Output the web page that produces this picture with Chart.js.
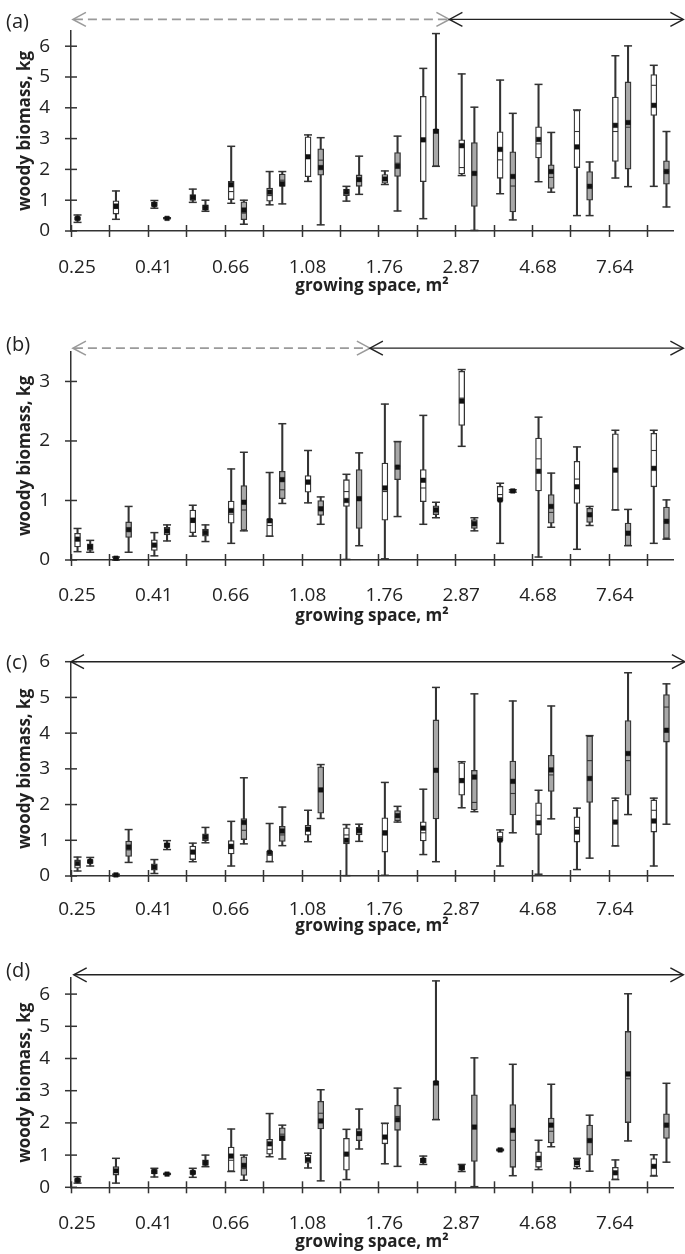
<!DOCTYPE html>
<html>
<head>
<meta charset="utf-8">
<script src="https://cdn.jsdelivr.net/npm/chart.js@4.4.1/dist/chart.umd.min.js"></script>
<style>
html,body{margin:0;padding:0;background:#fff;width:685px;height:1254px;overflow:hidden;position:relative}
canvas{position:absolute;left:0}
</style>
</head>
<body>
<canvas id="ca"></canvas>
<canvas id="cb"></canvas>
<canvas id="cc"></canvas>
<canvas id="cd"></canvas>
<script>
// ---------- DATA ----------
// x-axis tick labels (one per growing-space class; every other one labelled)
const xTickLabels = ['0.25','','0.41','','0.66','','1.08','','1.76','','2.87','','4.68','','7.64',''];
// y-axis tick values per panel
const yTicksA = [0,1,2,3,4,5,6];
const yTicksB = [0,1,2,3];
const yTicksC = [0,1,2,3,4,5,6];
const yTicksD = [0,1,2,3,4,5,6];

// each box: [min, q1, median, mean, q3, max]   (null = no box)
const A1 = [
 [0.28,0.35,0.40,0.41,0.46,0.52],
 [0.38,0.55,0.73,0.81,0.98,1.30],
 [0.74,0.80,0.86,0.86,0.93,0.99],
 [0.93,0.99,1.08,1.09,1.18,1.36],
 [0.90,1.02,1.28,1.50,1.61,2.75],
 [0.85,0.97,1.15,1.26,1.39,1.93],
 [1.61,1.76,2.40,2.41,3.06,3.12],
 [0.97,1.15,1.25,1.27,1.36,1.45],
 [1.51,1.55,1.66,1.69,1.83,1.95],
 [0.40,1.60,2.95,2.96,4.37,5.28],
 [1.80,1.85,2.06,2.77,2.96,5.10],
 [1.21,1.71,2.31,2.65,3.22,4.90],
 [1.60,2.37,2.83,2.97,3.38,4.76],
 [0.50,2.06,3.23,2.73,3.92,3.93],
 [1.72,2.26,3.23,3.43,4.35,5.69],
 [1.45,3.75,4.73,4.08,5.08,5.38]
];
const A2 = [
 null,
 null,
 [0.40,0.40,0.41,0.41,0.42,0.43],
 [0.64,0.68,0.76,0.76,0.85,1.00],
 [0.22,0.37,0.58,0.68,0.95,1.00],
 [0.88,1.45,1.65,1.53,1.85,1.93],
 [0.20,1.81,2.30,2.06,2.67,3.03],
 [1.19,1.45,1.62,1.67,1.82,2.43],
 [0.65,1.77,2.20,2.10,2.55,3.08],
 [2.10,2.10,3.26,3.24,3.30,6.41],
 [0.02,0.80,1.90,1.87,2.87,4.02],
 [0.36,0.62,1.46,1.77,2.57,3.82],
 [1.26,1.38,1.74,1.93,2.15,3.20],
 [0.50,1.00,1.45,1.45,1.93,2.24],
 [1.44,2.01,3.37,3.52,4.84,6.01],
 [0.78,1.52,1.93,1.93,2.28,3.23]
];
const B1 = [
 [0.14,0.22,0.33,0.35,0.45,0.53],
 [0.00,0.01,0.03,0.03,0.04,0.05],
 [0.07,0.16,0.25,0.25,0.34,0.46],
 [0.40,0.46,0.63,0.67,0.84,0.92],
 [0.28,0.62,0.77,0.83,0.99,1.53],
 [0.40,0.40,0.58,0.66,0.69,1.47],
 [0.96,1.14,1.28,1.31,1.42,1.84],
 [0.01,0.90,1.15,1.00,1.35,1.44],
 [0.02,0.67,1.15,1.21,1.63,2.62],
 [0.60,0.98,1.21,1.34,1.52,2.43],
 [1.91,2.26,2.72,2.67,3.17,3.20],
 [0.28,0.99,1.10,1.01,1.24,1.29],
 [0.05,1.16,1.70,1.49,2.05,2.40],
 [0.18,0.95,1.36,1.23,1.66,1.90],
 [0.84,0.84,1.50,1.51,2.12,2.18],
 [0.28,1.23,1.84,1.54,2.13,2.18]
];
const B2 = [
 [0.13,0.16,0.22,0.22,0.27,0.33],
 [0.13,0.38,0.51,0.51,0.64,0.90],
 [0.32,0.42,0.49,0.49,0.55,0.59],
 [0.31,0.40,0.46,0.46,0.52,0.59],
 [0.49,0.50,0.84,0.97,1.25,1.81],
 [0.95,1.03,1.18,1.35,1.49,2.29],
 [0.60,0.75,0.85,0.86,1.00,1.06],
 [0.24,0.53,1.03,1.03,1.52,1.80],
 [0.73,1.35,1.57,1.56,1.99,1.99],
 [0.71,0.76,0.84,0.84,0.91,0.97],
 [0.49,0.53,0.61,0.61,0.68,0.71],
 [1.14,1.15,1.16,1.16,1.17,1.18],
 [0.55,0.62,0.80,0.90,1.10,1.46],
 [0.58,0.63,0.75,0.76,0.87,0.90],
 [0.24,0.24,0.45,0.45,0.62,0.85],
 [0.35,0.36,0.65,0.65,0.89,1.01]
];
// range arrows above each panel: [from class, to class, style]
const arrowsA = [[0.05, 9.85, 'dash'], [9.85, 15.94, 'solid']];
const arrowsB = [[0.05, 7.78, 'dash'], [7.78, 15.94, 'solid']];
const arrowsC = [[0.0, 15.98, 'solid']];
const arrowsD = [[0.07, 15.94, 'solid']];

// ---------- STYLE / LAYOUT ----------
const FONT = '"Open Sans", "DejaVu Sans", sans-serif';
const AX = '#333';
const GREY = '#a8a8a8';
const OFF1 = 0.17, OFF2 = 0.50;
const X_MAX = 15.67;

const panels = [
  {id:'ca', label:'(a)', s1:A1, s2:A2, yMax:6.5, yTicks:yTicksA, arrows:arrowsA, arrowY:6.87,
   canvasTop:0, canvasH:300, chartTop:30.8, chartBottom:231, labelC:260, titleC:286, labelY:22},
  {id:'cb', label:'(b)', s1:B1, s2:B2, yMax:3.5, yTicks:yTicksB, arrows:arrowsB, arrowY:3.56,
   canvasTop:300, canvasH:330, chartTop:351.7, chartBottom:560, labelC:588, titleC:616, labelY:345},
  {id:'cc', label:'(c)', s1:B1, s2:A1, yMax:6, yTicks:yTicksC, arrows:arrowsC, arrowY:6.0,
   canvasTop:630, canvasH:310, chartTop:661.7, chartBottom:876, labelC:902, titleC:926, labelY:663},
  {id:'cd', label:'(d)', s1:B2, s2:A2, yMax:6.5, yTicks:yTicksD, arrows:arrowsD, arrowY:6.6,
   canvasTop:940, canvasH:314, chartTop:978, chartBottom:1187.3, labelC:1216, titleC:1242, labelY:971}
];

const decor = {
  id: 'decor',
  afterDraw(chart) {
    const c = chart.options.plugins.decor;
    const {ctx, chartArea} = chart;
    const x = chart.scales.x, y = chart.scales.y;
    ctx.save();
    ctx.strokeStyle = AX; ctx.lineWidth = 1.5; ctx.setLineDash([]);
    const seg = (x1,y1,x2,y2) => { ctx.beginPath(); ctx.moveTo(x1,y1); ctx.lineTo(x2,y2); ctx.stroke(); };
    x.ticks.forEach(t => { const px = Math.round(x.getPixelForValue(t.value)) + 0.5; seg(px, chartArea.bottom - 6, px, chartArea.bottom + 6); });
    y.ticks.forEach(t => { const py = y.getPixelForValue(t.value); seg(chartArea.left - 6, py, chartArea.left + 6, py); });
    // arrows
    const ay = y.getPixelForValue(c.arrowY);
    c.arrows.forEach(a => {
      const x1 = x.getPixelForValue(a[0]), x2 = x.getPixelForValue(a[1]);
      const dash = a[2] === 'dash';
      ctx.strokeStyle = dash ? '#9a9a9a' : '#222';
      ctx.lineWidth = dash ? 1.6 : 1.4;
      ctx.setLineDash(dash ? [9, 5] : []);
      seg(x1 + 1, ay, x2 - 1, ay);
      ctx.setLineDash([]);
      ctx.beginPath(); ctx.moveTo(x1 + 13, ay - 7); ctx.lineTo(x1, ay); ctx.lineTo(x1 + 13, ay + 7); ctx.stroke();
      ctx.beginPath(); ctx.moveTo(x2 - 13, ay - 7); ctx.lineTo(x2, ay); ctx.lineTo(x2 - 13, ay + 7); ctx.stroke();
    });
    // panel letter
    ctx.fillStyle = '#222';
    ctx.font = '20px ' + FONT;
    ctx.textBaseline = 'middle'; ctx.textAlign = 'left';
    ctx.fillText(c.label, 6, c.labelY - c.canvasTop);
    ctx.restore();
  }
};

function buildPanel(P) {
  const cv = document.getElementById(P.id);
  cv.width = 685; cv.height = P.canvasH;
  cv.style.width = '685px'; cv.style.height = P.canvasH + 'px'; cv.style.top = P.canvasTop + 'px';

  const TICK_SIZE = 19, TITLE_SIZE = 17;
  const H = P.titleC + TITLE_SIZE * 1.2 / 2 - P.chartBottom;
  const padBottom = P.canvasTop + P.canvasH - (P.chartBottom + H);
  const labelPad = P.labelC - P.chartBottom - TICK_SIZE * 1.2 / 2;

  const whisk = [], boxes = [], boxFill = [], caps = [], meds = [], means = [];
  [[P.s1, OFF1, '#ffffff'], [P.s2, OFF2, GREY]].forEach(([arr, off, fill]) => {
    arr.forEach((b, k) => {
      if (!b) return;
      const xv = k + off;
      whisk.push({x: xv, y: [b[0], b[5]]});
      boxes.push({x: xv, y: [b[1], b[4]]});
      boxFill.push(fill);
      caps.push({x: xv, y: b[0]}, {x: xv, y: b[5]});
      meds.push({x: xv, y: b[2]});
      means.push({x: xv, y: b[3]});
    });
  });

  new Chart(cv, {
    type: 'bar',
    data: {
      datasets: [
        {type:'bar', data: whisk, backgroundColor: AX, borderWidth: 0, barThickness: 1.4, grouped: false, order: 5, clip: false},
        {type:'scatter', data: caps, pointStyle: 'line', pointRadius: 4, pointHoverRadius: 4, pointBorderWidth: 1.5, pointBorderColor: AX, order: 4, clip: false},
        {type:'bar', data: boxes, backgroundColor: boxFill, borderColor: AX, borderWidth: 1.3, borderSkipped: false, barThickness: 6, grouped: false, order: 3, clip: false},
        {type:'scatter', data: meds, pointStyle: 'line', pointRadius: 2.6, pointHoverRadius: 2.6, pointBorderWidth: 1.1, pointBorderColor: AX, order: 2, clip: false},
        {type:'scatter', data: means, pointStyle: 'rect', pointRadius: 3.2, pointHoverRadius: 3.2, pointBorderWidth: 0.5, pointBorderColor: '#111', pointBackgroundColor: '#111', order: 1, clip: false}
      ]
    },
    options: {
      responsive: false, animation: false, devicePixelRatio: 1, events: [],
      layout: {autoPadding: false, padding: {top: P.chartTop - P.canvasTop, bottom: padBottom, left: 0, right: 12}},
      plugins: {
        legend: {display: false}, tooltip: {enabled: false},
        decor: {label: P.label, labelY: P.labelY, canvasTop: P.canvasTop, arrows: P.arrows, arrowY: P.arrowY}
      },
      scales: {
        x: {
          type: 'linear', min: 0, max: X_MAX, offset: false,
          grid: {display: false},
          border: {display: true, color: AX, width: 1.5},
          afterBuildTicks: s => { s.ticks = xTickLabels.map((_, i) => ({value: i})); },
          afterFit: s => { s.height = H; },
          ticks: {autoSkip: false, maxRotation: 0, minRotation: 0, padding: labelPad, labelOffset: 6,
                  color: '#222', font: {family: FONT, size: TICK_SIZE},
                  callback: v => (xTickLabels[Math.round(v)] ?? '')},
          title: {display: true, text: 'growing space, m²', color: '#222',
                  font: {family: FONT, size: TITLE_SIZE, weight: 'bold'}, padding: {top: 0, bottom: 0}}
        },
        y: {
          type: 'linear', min: 0, max: P.yMax,
          grid: {display: false},
          border: {display: true, color: AX, width: 1.5},
          afterBuildTicks: s => { s.ticks = P.yTicks.map(v => ({value: v})); },
          afterFit: s => { s.width = 71; },
          ticks: {autoSkip: false, padding: 13, color: '#222', font: {family: FONT, size: TICK_SIZE},
                  callback: v => String(v)},
          title: {display: true, text: 'woody biomass, kg', color: '#222',
                  font: {family: FONT, size: TITLE_SIZE, weight: 'bold'}, padding: {top: 14.8, bottom: 0}}
        }
      }
    },
    plugins: [decor]
  });
}
panels.forEach(buildPanel);
</script>
</body>
</html>
